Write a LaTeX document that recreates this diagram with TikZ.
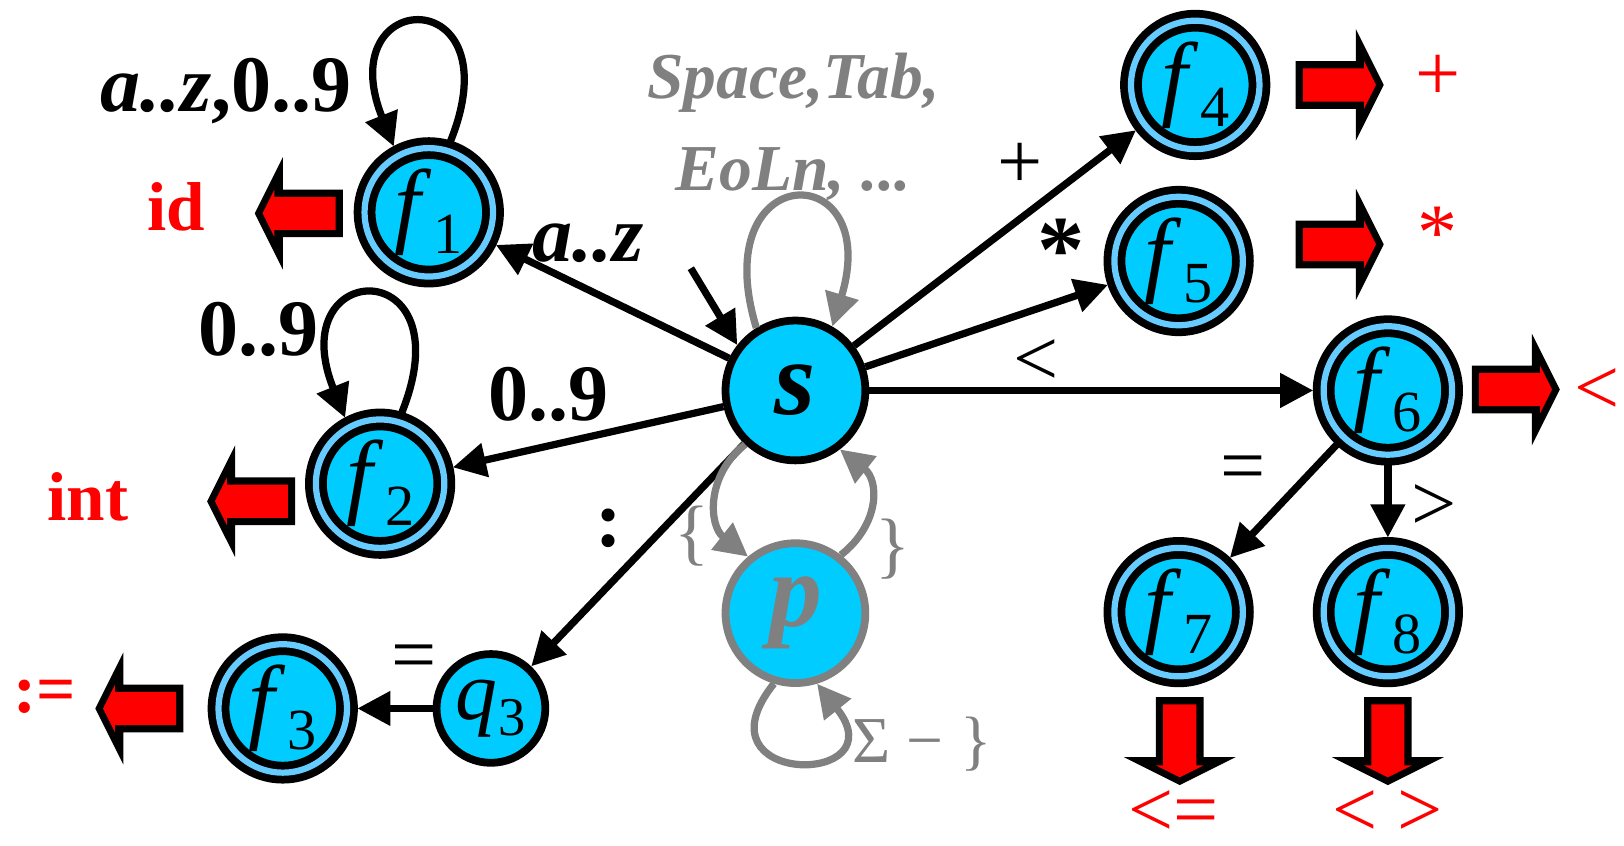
\documentclass[tikz,border=0pt]{standalone}
\usepackage{fontspec}
\setmainfont{Liberation Serif}
\usetikzlibrary{arrows.meta}
\definecolor{cy}{HTML}{00CCFF}
\definecolor{lb}{HTML}{66CCFF}
\definecolor{gr}{HTML}{808080}
\definecolor{rd}{HTML}{FF0000}
\newcommand\fsub[1]{\textit{f}\kern0.02em\raisebox{-5pt}{\fontsize{16}{16}\selectfont #1}}
\newcommand\qsub[1]{\textit{q}\kern0.01em\raisebox{-4.5pt}{\fontsize{15}{15}\selectfont #1}}
\begin{document}
\begin{tikzpicture}[
  fin/.style={circle, minimum size=1.24cm, inner sep=0pt, outer sep=0.1cm, fill=cy,
    draw=black, line width=0.075cm, double=lb, double distance=0.06cm,
    font=\fontsize{26}{26}\selectfont},
  st/.style={circle, minimum size=1.35cm, inner sep=0pt, fill=cy, draw=black,
    line width=0.075cm, font=\fontsize{29}{29}\selectfont\bfseries\itshape},
  ed/.style={line width=0.07cm, -{Triangle[length=0.32cm,width=0.32cm]}},
  ged/.style={ed, draw=gr},
  lbl/.style={inner sep=0pt, font=\fontsize{22}{22}\selectfont},
  blbl/.style={inner sep=0pt, font=\fontsize{22}{22}\selectfont\bfseries},
  glbl/.style={inner sep=0pt, text=gr, font=\fontsize{18}{18}\selectfont\bfseries\itshape},
  rlbl/.style={inner sep=0pt, text=rd, font=\fontsize{22}{22}\selectfont},
  rblbl/.style={inner sep=0pt, text=rd, font=\fontsize{19}{19}\selectfont\bfseries},
  blk/.pic={
    \fill[black] (0,-0.23) -- (0.58,-0.23) -- (0.58,-0.54) -- (0.85,0) -- (0.58,0.54) -- (0.58,0.23) -- (0,0.23) -- cycle;
    \fill[rd] (0.07,-0.16) -- (0.66,-0.16) -- (0.66,-0.23) -- (0.775,0) -- (0.66,0.23) -- (0.66,0.16) -- (0.07,0.16) -- cycle;
  }
]
\useasboundingbox (0,0) rectangle (15.68,8.16);

% states
\node[st] (s) at (7.68,4.39) {s};
\node[st, draw=gr, text=gr] (p) at (7.68,2.24) {p};
\node[st, minimum size=1.05cm, font=\fontsize{23}{23}\selectfont] (q3) at (4.74,1.32) {\qsub{3}};
\node[fin] (f1) at (4.14,6.11) {\fsub{1}};
\node[fin] (f2) at (3.67,3.49) {\fsub{2}};
\node[fin] (f3) at (2.73,1.32) {\fsub{3}};
\node[fin] (f4) at (11.54,7.34) {\fsub{4}};
\node[fin] (f5) at (11.38,5.64) {\fsub{5}};
\node[fin] (f6) at (13.40,4.39) {\fsub{6}};
\node[fin] (f7) at (11.38,2.25) {\fsub{7}};
\node[fin] (f8) at (13.40,2.25) {\fsub{8}};
\coordinate (st0) at (6.67,5.57);

% transitions
\draw[ed] (st0) -- (s.142);
\draw[ed] (s) -- (f1);
\draw[ed] (s) -- (f2);
\draw[ed] (s) -- (q3);
\draw[ed] (q3) -- (f3);
\draw[ed] (s) -- (f4);
\draw[ed] (s) -- (f5);
\draw[ed] (s) -- (f6);
\draw[ed] (f6) -- (f7);
\draw[ed] (f6) -- (f8);
\draw[ed] (f1.73) .. controls +(0.62,1.55) and +(-0.62,1.55) .. (f1.118);
\draw[ed] (f2.73) .. controls +(0.62,1.55) and +(-0.62,1.55) .. (f2.118);
\draw[ged] (s.122) .. controls +(-0.5,1.65) and +(0.5,1.65) .. (s.60);
\draw[ged] (s.227) .. controls +(-0.38,-0.3) and +(-0.38,0.3) .. (p.130);
\draw[ged] (p.52) .. controls +(0.38,0.3) and +(0.38,-0.3) .. (s.307);
\draw[ged] (p.253) .. controls +(-0.8,-1.0) and +(0.8,-1.0) .. (p.287);

% output arrows
\pic[rotate=180] at (3.31,6.10) {blk};
\pic[rotate=180] at (2.85,3.32) {blk};
\pic[rotate=180] at (1.77,1.32) {blk};
\pic at (12.51,7.34) {blk};
\pic at (12.51,5.80) {blk};
\pic at (14.21,4.40) {blk};
\pic[rotate=-90] at (11.39,1.43) {blk};
\pic[rotate=-90] at (13.40,1.43) {blk};

% labels
\node[blbl] (l1) at (2.18,7.28) {\textit{a..z},0..9};
\node[blbl] (l2) at (5.68,5.81) {\textit{a..z}};
\node[blbl] (l3) at (2.50,4.98) {0..9};
\node[blbl] (l4) at (5.30,4.35) {0..9};
\node[blbl] (l5) at (5.88,3.06) {:};
\node[lbl] (l6) at (4.00,1.76) {=};
\node[lbl] (l7) at (9.85,6.56) {+};
\node[blbl, font=\fontsize{26}{26}\selectfont\bfseries] (l8) at (10.25,5.74) {*};
\node[lbl] (l9) at (10.00,4.66) {<};
\node[lbl] (l10) at (12.00,3.58) {=};
\node[lbl] (l11) at (13.85,3.26) {>};
\node[glbl] (l12) at (7.66,7.36) {Space,Tab,};
\node[glbl] (l13) at (7.66,6.48) {EoLn, ...};
\node[lbl, text=gr, font=\fontsize{20}{20}\selectfont] (l14) at (6.68,2.98) {\{};
\node[lbl, text=gr, font=\fontsize{20}{20}\selectfont] (l15) at (8.62,2.86) {\}};
\node[lbl, text=gr, font=\fontsize{18}{18}\selectfont] (l16) at (8.90,0.98) {Σ − \}};

% outputs
\node[rblbl] (o1) at (1.70,6.16) {id};
\node[rblbl] (o2) at (0.85,3.36) {int};
\node[rblbl] (o3) at (0.43,1.43) {:=};
\node[rlbl] (o4) at (13.88,7.41) {+};
\node[rlbl] (o5) at (13.88,5.91) {*};
\node[rlbl] (o6) at (15.42,4.38) {<};
\node[rlbl] (o7) at (11.33,0.31) {<=};
\node[rlbl] (o8) at (13.40,0.31) {< >};
\end{tikzpicture}
\end{document}
